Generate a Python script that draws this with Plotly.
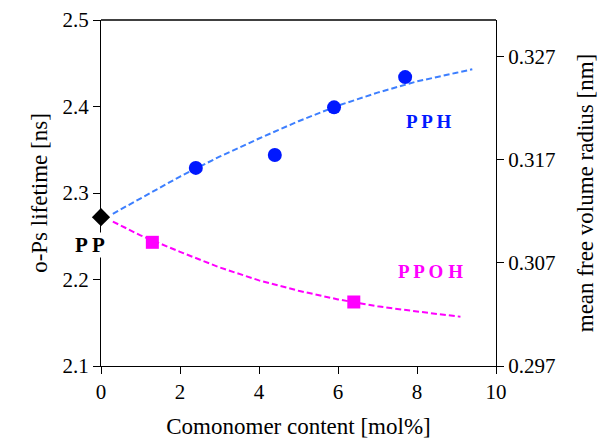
import plotly.graph_objects as go

# data
pph_x = [2.4, 4.4, 5.9, 7.7]
pph_y = [2.329, 2.344, 2.399, 2.434]
ppoh_x = [1.3, 6.4]
ppoh_y = [2.243, 2.174]
pp_x = [0.0]
pp_y = [2.272]

pph_fit_x = [0.3, 1, 2, 3, 4, 5, 6, 7, 8, 9, 9.4]
pph_fit_y = [2.276, 2.294, 2.319, 2.342, 2.363, 2.383, 2.401, 2.416, 2.429, 2.439, 2.443]
ppoh_fit_x = [0.3, 1, 2, 3, 4, 5, 6, 7, 8, 9.1]
ppoh_fit_y = [2.267, 2.251, 2.232, 2.214, 2.199, 2.187, 2.177, 2.169, 2.163, 2.157]

x_ticks = [0, 2, 4, 6, 8, 10]
y_ticks = [2.1, 2.2, 2.3, 2.4, 2.5]
y2_ticks = [0.297, 0.307, 0.317, 0.327]

FONT = "Liberation Serif"

fig = go.Figure()
fig.add_trace(go.Scatter(x=pph_fit_x, y=pph_fit_y, mode="lines",
                         line=dict(color="#3d7fff", width=2, dash="6px,3px"),
                         hoverinfo="skip", showlegend=False))
fig.add_trace(go.Scatter(x=ppoh_fit_x, y=ppoh_fit_y, mode="lines",
                         line=dict(color="#ff00ff", width=2, dash="6px,3px"),
                         hoverinfo="skip", showlegend=False))
fig.add_trace(go.Scatter(x=pph_x, y=pph_y, mode="markers",
                         marker=dict(symbol="circle", size=14, color="#0018ff"),
                         showlegend=False))
fig.add_trace(go.Scatter(x=ppoh_x, y=ppoh_y, mode="markers",
                         marker=dict(symbol="square", size=13, color="#ff00ff"),
                         showlegend=False))
fig.add_trace(go.Scatter(x=pp_x, y=pp_y, mode="markers",
                         marker=dict(symbol="diamond", size=14, color="black"),
                         showlegend=False, cliponaxis=False))
# invisible trace to anchor the right axis
fig.add_trace(go.Scatter(x=[5], y=[0.31], yaxis="y2", mode="markers",
                         marker=dict(opacity=0), hoverinfo="skip", showlegend=False))

TICKFONT = dict(family=FONT, size=21, color="black")
TITLEFONT = dict(family=FONT, size=23, color="black")
axis_common = dict(showline=True, linecolor="black", linewidth=1.3, ticks="outside",
                   ticklen=7, tickwidth=1.3, tickcolor="black", showgrid=False,
                   zeroline=False, tickfont=TICKFONT, automargin=False)

fig.update_layout(
    width=604, height=439,
    margin=dict(l=101, r=108, t=20, b=73),
    paper_bgcolor="white", plot_bgcolor="white",
    xaxis=dict(range=[0, 10], tickvals=x_ticks,
               title=dict(text="Comonomer content [mol%]", font=TITLEFONT, standoff=14),
               **axis_common),
    yaxis=dict(range=[2.1, 2.5], tickvals=y_ticks, tickformat=".1f",
               title=dict(text="o-Ps lifetime [ns]", font=TITLEFONT, standoff=8),
               **axis_common),
    yaxis2=dict(range=[0.297, 0.3305], tickvals=y2_ticks, tickformat=".3f", overlaying="y", side="right",
                title=dict(text="mean free volume radius [nm]", font=TITLEFONT, standoff=22),
                **axis_common),
    shapes=[dict(type="line", xref="paper", yref="paper", x0=0, x1=1, y0=1, y1=1,
                 line=dict(color="black", width=1.3))],
    annotations=[
        dict(x=8.3, y=2.383, text="<b>P P H</b>", showarrow=False,
             font=dict(family=FONT, size=19, color="#0018ff")),
        dict(x=8.35, y=2.209, text="<b>P P O H</b>", showarrow=False,
             font=dict(family=FONT, size=19, color="#ff00ff")),
        dict(xref="paper", x=-0.028, xanchor="center", yref="y", y=2.24, text="<b>P P</b>",
             showarrow=False, bgcolor="white", borderpad=0,
             font=dict(family=FONT, size=21, color="black")),
    ],
)

fig.write_html("out.html")
